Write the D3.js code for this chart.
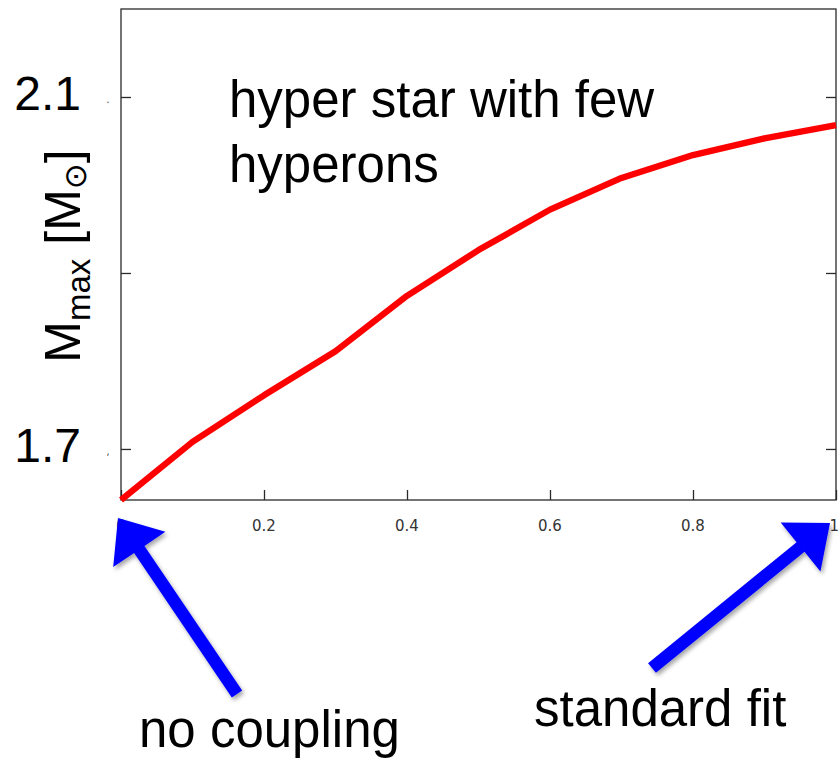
<!DOCTYPE html>
<html>
<head>
<meta charset="utf-8">
<script src="https://cdn.jsdelivr.net/npm/d3@7"></script>
<style>
  html, body { margin: 0; padding: 0; background: #fff; }
  svg { display: block; }
</style>
</head>
<body>
<svg id="chart" width="839" height="760"></svg>
<script>
// Coupling strength (0 = no coupling, 1 = standard fit) and resulting maximum mass
const coupling = [0, 0.1, 0.2, 0.3, 0.4, 0.5, 0.6, 0.7, 0.8, 0.9, 1.0];
const mmax = [1.642, 1.708, 1.761, 1.811, 1.874, 1.926, 1.972, 2.008, 2.034, 2.053, 2.068];

const xTicks = [0, 0.2, 0.4, 0.6, 0.8, 1];
const xTickLabels = ["0", "0.2", "0.4", "0.6", "0.8", "1"];
const yTicks = [1.7, 1.9, 2.1];
const yTickLabels = [1.7, 2.1];
const yTop = 2.2;

const svg = d3.select("#chart");

const x = d3.scaleLinear().domain([0, 1]).range([121, 836]);
const y = d3.scaleLinear().domain([d3.min(mmax), yTop]).range([500, 9]);

const frameColor = "#2a2a2a";

// frame
svg.append("rect")
  .attr("x", x(0)).attr("y", y(yTop))
  .attr("width", x(1) - x(0)).attr("height", y.range()[0] - y(yTop))
  .attr("fill", "none").attr("stroke", frameColor).attr("stroke-width", 1.3);

// inward ticks: bottom
const xAxis = d3.axisTop(x).tickValues(xTicks).tickSize(10).tickFormat("");
const gx = svg.append("g").attr("transform", `translate(0,${y.range()[0]})`).call(xAxis);
gx.select(".domain").remove();
gx.selectAll("line").attr("stroke", frameColor).attr("stroke-width", 1.3);

// inward ticks: left and right
const gyl = svg.append("g").attr("transform", `translate(${x(0)},0)`)
  .call(d3.axisRight(y).tickValues(yTicks).tickSize(10).tickFormat(""));
gyl.select(".domain").remove();
gyl.selectAll("line").attr("stroke", frameColor).attr("stroke-width", 1.3);

const gyr = svg.append("g").attr("transform", `translate(${x(1)},0)`)
  .call(d3.axisLeft(y).tickValues(yTicks).tickSize(10).tickFormat(""));
gyr.select(".domain").remove();
gyr.selectAll("line").attr("stroke", frameColor).attr("stroke-width", 1.3);

// x tick labels (the last one sits at the right edge of the page)
svg.append("g").selectAll("text").data(xTicks).join("text")
  .attr("x", d => x(d)).attr("y", 531)
  .attr("text-anchor", (d, i) => i === xTicks.length - 1 ? "end" : "middle")
  .attr("dx", (d, i) => i === xTicks.length - 1 ? 3 : 0)
  .attr("font-family", "DejaVu Sans, sans-serif")
  .attr("font-size", 15).attr("fill", "#333")
  .text((d, i) => xTickLabels[i]);

// y tick labels
svg.append("g").selectAll("text").data(yTickLabels).join("text")
  .attr("x", 81).attr("y", d => y(d) + 13)
  .attr("text-anchor", "end")
  .attr("font-family", "Liberation Sans, Arial, sans-serif")
  .attr("font-size", 48).attr("fill", "#000")
  .text(d => d.toFixed(1));

// small tick-label remnants beside the big labels
svg.append("g").selectAll("text").data(yTickLabels).join("text")
  .attr("x", 108).attr("y", d => y(d) + 6)
  .attr("text-anchor", "middle")
  .attr("font-family", "DejaVu Sans, sans-serif")
  .attr("font-size", 11).attr("fill", "#555")
  .text((d, i) => i === 0 ? "," : ".");

// y axis title  M_max [M_⊙]
const yTitle = svg.append("text")
  .attr("transform", "translate(80,256) rotate(-90)")
  .attr("text-anchor", "middle")
  .attr("font-family", "Liberation Sans, Arial, sans-serif")
  .attr("font-size", 50).attr("fill", "#000");
yTitle.append("tspan").text("M");
yTitle.append("tspan").attr("font-size", 33).attr("dy", 10).text("max");
yTitle.append("tspan").attr("dy", -10).text(" [M");
yTitle.append("tspan").attr("font-size", 31).attr("dy", 6).attr("font-family", "DejaVu Sans, sans-serif").text("\u2299");
yTitle.append("tspan").attr("dy", -6).text("]");

// mass curve
const line = d3.line().x((d, i) => x(coupling[i])).y(d => y(d));
svg.append("path")
  .datum(mmax)
  .attr("d", line)
  .attr("fill", "none")
  .attr("stroke", "#ff0000")
  .attr("stroke-width", 6.3)
  .attr("stroke-linejoin", "round");

// annotation text
const note = svg.append("text")
  .attr("font-family", "Liberation Sans, Arial, sans-serif")
  .attr("font-size", 51).attr("fill", "#000");
note.append("tspan").attr("x", 229).attr("y", 117).text("hyper star with few");
note.append("tspan").attr("x", 229).attr("y", 182).text("hyperons");

svg.append("text")
  .attr("x", 139).attr("y", 747)
  .attr("font-family", "Liberation Sans, Arial, sans-serif")
  .attr("font-size", 51).attr("fill", "#000")
  .text("no coupling");

svg.append("text")
  .attr("x", 534).attr("y", 726)
  .attr("font-family", "Liberation Sans, Arial, sans-serif")
  .attr("font-size", 51).attr("fill", "#000")
  .text("standard fit");

// blue arrows pointing at the two ends of the coupling axis
const defs = svg.append("defs");
defs.append("filter").attr("id", "shadow")
  .attr("x", "-20%").attr("y", "-20%").attr("width", "140%").attr("height", "140%")
  .append("feDropShadow")
  .attr("dx", 2).attr("dy", 3).attr("stdDeviation", 2.2)
  .attr("flood-color", "#000").attr("flood-opacity", 0.35);

function arrowPoints(tail, tip, shaftW, headW, headL) {
  const dx = tip[0] - tail[0], dy = tip[1] - tail[1];
  const len = Math.hypot(dx, dy);
  const ux = dx / len, uy = dy / len;
  const nx = -uy, ny = ux;
  const bx = tip[0] - ux * headL, by = tip[1] - uy * headL;
  return [
    [tail[0] + nx * shaftW / 2, tail[1] + ny * shaftW / 2],
    [bx + nx * shaftW / 2, by + ny * shaftW / 2],
    [bx + nx * headW / 2, by + ny * headW / 2],
    tip,
    [bx - nx * headW / 2, by - ny * headW / 2],
    [bx - nx * shaftW / 2, by - ny * shaftW / 2],
    [tail[0] - nx * shaftW / 2, tail[1] - ny * shaftW / 2]
  ];
}

const axisY = y.range()[0];
const arrows = [
  { tail: [x(0) + 116, axisY + 194], tip: [x(0) - 3, axisY + 18] },
  { tail: [x(1) - 184, axisY + 168], tip: [x(1) - 6, axisY + 23] }
];

svg.append("g").selectAll("polygon").data(arrows).join("polygon")
  .attr("points", d => arrowPoints(d.tail, d.tip, 12.5, 63, 38).map(p => p.join(",")).join(" "))
  .attr("fill", "#0000ff")
  .attr("filter", "url(#shadow)");
</script>
</body>
</html>
